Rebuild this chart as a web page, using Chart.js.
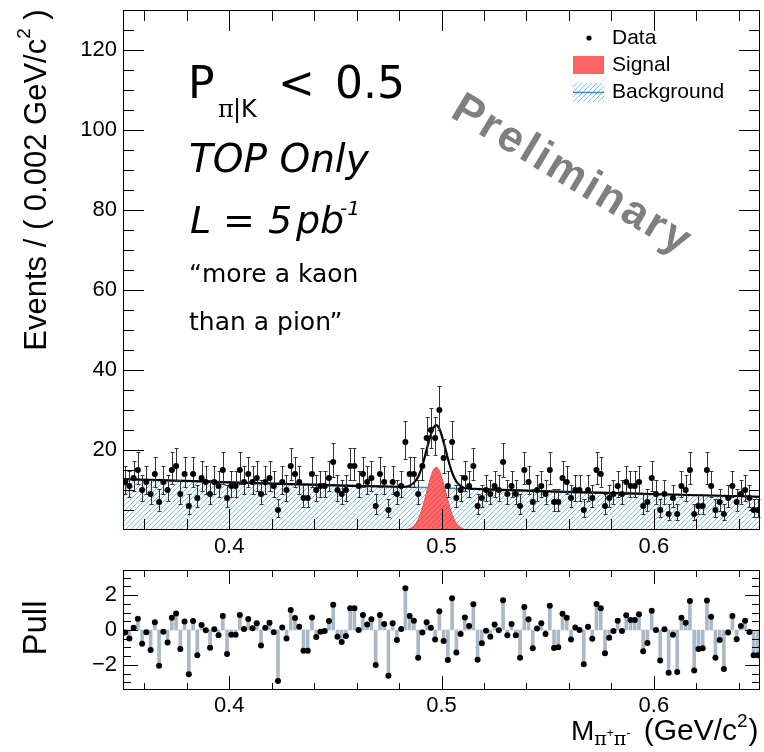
<!DOCTYPE html>
<html>
<head>
<meta charset="utf-8">
<script src="https://cdn.jsdelivr.net/npm/chart.js@4.4.1/dist/chart.umd.min.js"></script>
<style>
    html, body { margin: 0; padding: 0; background: #fff; }
    #wrap { position: relative; width: 764px; height: 752px; }
    canvas { position: absolute; left: 0; }
</style>
</head>
<body>
<div id="wrap">
    <canvas id="mainCanvas" width="764" height="560" style="top:0"></canvas>
    <canvas id="pullCanvas" width="764" height="192" style="top:560px"></canvas>
</div>
<script>
// events per 0.002 GeV bin, 0.35 .. 0.65
const counts = [
    12, 11, 13, 15, 10, 12, 9, 14, 7, 12,
    10, 15, 16, 9, 14, 6, 14, 8, 13, 12,
    9, 12, 11, 15, 8, 11, 11, 15, 12, 14,
    12, 13, 9, 12, 13, 11, 5, 12, 10, 16,
    14, 12, 8, 8, 14, 10, 11, 11, 13, 17,
    10, 9, 10, 16, 16, 11, 14, 12, 13, 6,
    14, 12, 5, 12, 9, 11, 22, 14, 14, 9,
    16, 23, 25, 23, 30, 18, 11, 22, 8, 10,
    13, 11, 16, 6, 8, 10, 9, 11, 10, 17,
    9, 11, 9, 6, 15, 12, 7, 10, 11, 9,
    15, 7, 7, 13, 12, 8, 10, 10, 5, 10,
    8, 15, 14, 6, 8, 9, 11, 9, 12, 11,
    11, 12, 6, 7, 13, 9, 5, 9, 4, 8,
    4, 11, 10, 15, 4, 6, 6, 15, 11, 5,
    7, 4, 8, 11, 7, 9, 10, 8, 5, 5
];

const pulls = [
    -0.15, -0.48, 0.13, 0.65, -0.78, -0.13, -1.14, 0.44, -2.04, -0.10,
    -0.72, 0.70, 0.95, -1.09, 0.48, -2.53, 0.51, -1.45, 0.29, -0.02,
    -1.01, 0.04, -0.30, 0.80, -1.37, -0.27, -0.27, 0.86, 0.06, 0.63,
    0.10, 0.38, -0.88, 0.13, 0.42, -0.13, -2.91, 0.15, -0.48, 1.14,
    0.69, 0.19, -1.18, -1.18, 0.72, -0.40, -0.10, -0.06, 0.51, 1.45,
    -0.38, -0.69, -0.34, 1.24, 1.24, 0.00, 0.86, 0.32, 0.61, -2.00,
    0.86, 0.34, -2.61, 0.38, -0.57, 0.06, 2.38, 0.80, 0.53, -1.58,
    -0.15, 0.44, 0.13, -0.55, 1.07, -0.63, -1.71, 1.81, -1.28, -0.23,
    0.72, 0.23, 1.47, -1.70, -0.76, -0.04, -0.38, 0.32, -0.02, 1.70,
    -0.30, 0.34, -0.30, -1.58, 1.31, 0.61, -1.05, 0.08, 0.38, -0.23,
    1.39, -1.03, -0.99, 0.93, 0.70, -0.55, 0.15, 0.00, -1.96, 0.19,
    -0.50, 1.49, 1.24, -1.33, -0.44, -0.06, 0.53, -0.06, 0.84, 0.57,
    0.57, 0.90, -1.22, -0.74, 1.10, 0.00, -1.75, 0.04, -2.44, -0.27,
    -2.40, 0.70, 0.42, 1.66, -2.32, -1.09, -1.05, 1.68, 0.76, -1.58,
    -0.57, -2.23, -0.15, 0.80, -0.53, 0.23, 0.53, -0.11, -1.45, -1.45
];

// fit curves
const bkgMass = [0.35, 0.65];
const bkgLevel = [12.7, 8.3];

const sigMass = [0.35, 0.479, 0.482, 0.485, 0.488, 0.490, 0.492, 0.494, 0.496, 0.4975,
                 0.499, 0.501, 0.503, 0.505, 0.507, 0.510, 0.513, 0.516, 0.65];
const sigLevel = [0, 0, 0.04, 0.33, 1.7, 3.9, 7.4, 11.5, 14.8, 15.7,
                  14.8, 11.5, 7.4, 3.9, 1.7, 0.33, 0.04, 0, 0];

const fitMass = [0.35, 0.479, 0.482, 0.485, 0.488, 0.490, 0.492, 0.494, 0.496, 0.4975,
                 0.499, 0.501, 0.503, 0.505, 0.507, 0.510, 0.513, 0.516, 0.65];
const fitLevel = [12.7, 10.81, 10.80, 11.05, 12.38, 14.55, 18.02, 22.09, 25.36, 26.24,
                  25.31, 21.98, 17.86, 14.33, 12.1, 10.68, 10.35, 10.26, 8.3];

const xLabelTicks = [0.4, 0.5, 0.6];
const xMinorTicks = [0.36, 0.38, 0.40, 0.42, 0.44, 0.46, 0.48, 0.50, 0.52, 0.54, 0.56, 0.58, 0.60, 0.62, 0.64];
const yLabelTicks = [20, 40, 60, 80, 100, 120];
const pullLabelTicks = [-2, 0, 2];

const binCenters = counts.map((_, i) => +(0.351 + 0.002 * i).toFixed(3));

const FONT = '"Liberation Sans", Arial, sans-serif';
const TEX = '"DejaVu Sans", sans-serif';

function hatch(bg, fg, size, lw) {
    const c = document.createElement('canvas');
    c.width = c.height = size;
    const g = c.getContext('2d');
    if (bg) { g.fillStyle = bg; g.fillRect(0, 0, size, size); }
    g.strokeStyle = fg;
    g.lineWidth = lw;
    g.beginPath();
    g.moveTo(-1, size + 1); g.lineTo(size + 1, -1);
    g.moveTo(-size / 2 - 1, size / 2 + 1); g.lineTo(size / 2 + 1, -size / 2 - 1);
    g.moveTo(size / 2 - 1, size * 1.5 + 1); g.lineTo(size * 1.5 + 1, size / 2 - 1);
    g.stroke();
    return g.createPattern(c, 'repeat');
}

const bkgHatch = hatch(null, '#7cc3ea', 5, 1);
const sigHatch = hatch('#ff6868', '#e84a4a', 5, 1);

function pts(xs, ys) { return xs.map((x, i) => ({ x: x, y: ys[i] })); }

// chart.js reserves room for edge labels; we want the frame exactly where we put it
function noPad(s) { s.paddingTop = 0; s.paddingBottom = 0; s.paddingLeft = 0; s.paddingRight = 0; }

// ROOT style ticks on all four sides + frame
function drawFrame(chart, o) {
    const { ctx, chartArea: a, scales } = chart;
    const sx = scales.x, sy = scales.y;
    ctx.save();
    ctx.strokeStyle = '#000';
    ctx.lineWidth = 1;
    ctx.beginPath();
    xMinorTicks.forEach(v => {
        const p = Math.round(sx.getPixelForValue(v)) + 0.5;
        const L = xLabelTicks.includes(v) ? o.xMajor : o.xMinor;
        ctx.moveTo(p, a.bottom); ctx.lineTo(p, a.bottom - L);
        ctx.moveTo(p, a.top); ctx.lineTo(p, a.top + L);
    });
    o.yTicks.forEach(v => {
        const p = Math.round(sy.getPixelForValue(v)) + 0.5;
        const L = o.yMajorList.includes(v) ? o.yMajor : o.yMinor;
        ctx.moveTo(a.left, p); ctx.lineTo(a.left + L, p);
        ctx.moveTo(a.right, p); ctx.lineTo(a.right - L, p);
    });
    ctx.stroke();
    ctx.strokeRect(a.left + 0.5, a.top + 0.5, a.right - a.left - 1, a.bottom - a.top - 1);
    ctx.restore();
}

function richText(ctx, x, y, parts) {
    let cx = x;
    parts.forEach(p => {
        ctx.font = p.font;
        ctx.fillText(p.t, cx, y + (p.dy || 0));
        cx += ctx.measureText(p.t).width + (p.gap || 0);
    });
}

function richWidth(ctx, parts) {
    let w = 0;
    parts.forEach(p => { ctx.font = p.font; w += ctx.measureText(p.t).width + (p.gap || 0); });
    return w;
}

const mainMinor = [];
for (let k = 1; k * 5 < 130; k++) mainMinor.push(k * 5);
const pullMinor = [];
for (let k = -6; k <= 6; k++) pullMinor.push(k * 0.5);

const errorBars = {
    id: 'errorBars',
    beforeDatasetDraw(chart, args) {
        if (args.index !== 0) return;
        const { ctx, scales: { x, y } } = chart;
        ctx.save();
        ctx.strokeStyle = '#333';
        ctx.lineWidth = 1;
        ctx.beginPath();
        counts.forEach((n, i) => {
            const px = Math.round(x.getPixelForValue(binCenters[i])) + 0.5;
            const s = Math.sqrt(n + 0.25);
            const top = Math.round(y.getPixelForValue(n + 0.5 + s)) + 0.5;
            const bot = Math.round(y.getPixelForValue(n + 0.5 - s)) + 0.5;
            ctx.moveTo(px, top); ctx.lineTo(px, bot);
            ctx.moveTo(px - 2, top); ctx.lineTo(px + 2, top);
            ctx.moveTo(px - 2, bot); ctx.lineTo(px + 2, bot);
        });
        ctx.stroke();
        ctx.restore();
    }
};

const mainDecor = {
    id: 'mainDecor',
    afterDraw(chart) {
        const ctx = chart.ctx;
        drawFrame(chart, { xMajor: 21, xMinor: 11, yMajor: 21, yMinor: 11, yTicks: mainMinor, yMajorList: yLabelTicks });

        ctx.save();
        ctx.fillStyle = '#000';
        ctx.textAlign = 'left';
        ctx.textBaseline = 'alphabetic';

        // P_{pi|K} < 0.5
        ctx.font = '44px ' + TEX; ctx.fillText('P', 188, 98);
        ctx.font = '24px "DejaVu Serif", serif'; ctx.fillText('π', 218, 117);
        ctx.font = '24px ' + TEX; ctx.fillText('|K', 233, 117);
        ctx.font = '44px ' + TEX; ctx.fillText('<', 278, 98);
        ctx.fillText('0.5', 335, 98);

        ctx.font = 'oblique 39px ' + TEX; ctx.fillText('TOP Only', 189, 172);

        ctx.font = 'oblique 38px ' + TEX; ctx.fillText('L', 190, 233);
        ctx.font = '38px ' + TEX; ctx.fillText('=', 223, 233);
        ctx.font = 'oblique 38px ' + TEX; ctx.fillText('5', 268, 233);
        ctx.fillText('pb', 296, 233);
        ctx.font = 'oblique 20px ' + TEX; ctx.fillText('-1', 340, 215);

        ctx.font = '25px ' + TEX;
        ctx.fillText('\u201Cmore a kaon', 189, 282);
        ctx.fillText('than a pion\u201D', 189, 330);

        // Preliminary
        ctx.save();
        ctx.translate(572, 176);
        ctx.rotate(31 * Math.PI / 180);
        ctx.fillStyle = '#7f7f7f';
        ctx.font = 'bold 44px ' + FONT;
        ctx.letterSpacing = '3px';
        ctx.textAlign = 'center';
        ctx.textBaseline = 'middle';
        ctx.fillText('Preliminary', 0, 0);
        ctx.restore();

        // legend
        ctx.font = '21px ' + FONT;
        ctx.textBaseline = 'middle';
        ctx.fillStyle = '#000';
        ctx.beginPath(); ctx.arc(589, 38, 2.6, 0, Math.PI * 2); ctx.fill();
        ctx.fillText('Data', 612, 38);
        ctx.fillStyle = '#ff6464';
        ctx.fillRect(573, 56, 31, 18);
        ctx.fillStyle = '#000';
        ctx.fillText('Signal', 612, 65);
        ctx.fillStyle = bkgHatch;
        ctx.fillRect(573, 83, 31, 19);
        ctx.strokeStyle = '#2a8fd8';
        ctx.lineWidth = 1.5;
        ctx.beginPath(); ctx.moveTo(573, 92.5); ctx.lineTo(604, 92.5); ctx.stroke();
        ctx.fillStyle = '#000';
        ctx.fillText('Background', 612, 92);

        // y title
        const parts = [
            { t: 'Events / ( 0.002 GeV/c', font: '31px ' + FONT },
            { t: '2', font: '19px ' + FONT, dy: -12 },
            { t: ' )', font: '31px ' + FONT }
        ];
        ctx.save();
        ctx.translate(37, 180);
        ctx.rotate(-Math.PI / 2);
        ctx.textBaseline = 'middle';
        const w = richWidth(ctx, parts);
        richText(ctx, -w / 2, 0, parts);
        ctx.restore();

        ctx.restore();
    }
};

const pullDecor = {
    id: 'pullDecor',
    afterDraw(chart) {
        const ctx = chart.ctx;
        drawFrame(chart, { xMajor: 14, xMinor: 7, yMajor: 15, yMinor: 8, yTicks: pullMinor, yMajorList: pullLabelTicks });
        ctx.save();
        ctx.fillStyle = '#000';
        ctx.textAlign = 'center';
        ctx.textBaseline = 'middle';
        ctx.save();
        ctx.translate(37, 68);
        ctx.rotate(-Math.PI / 2);
        ctx.font = '33px ' + FONT;
        ctx.fillText('Pull', 0, 0);
        ctx.restore();

        ctx.textAlign = 'left';
        ctx.textBaseline = 'alphabetic';
        richText(ctx, 571, 180, [
            { t: 'M', font: '28px ' + FONT },
            { t: 'π', font: '19px "DejaVu Serif", serif', dy: 5 },
            { t: '+', font: '12px ' + FONT, dy: -3 },
            { t: 'π', font: '19px "DejaVu Serif", serif', dy: 5 },
            { t: '-', font: '13px ' + FONT, dy: -3, gap: 13 },
            { t: '(GeV/c', font: '30px ' + FONT },
            { t: '2', font: '19px ' + FONT, dy: -13, gap: 1 },
            { t: ')', font: '30px ' + FONT }
        ]);
        ctx.restore();
    }
};

Chart.defaults.color = '#000';
Chart.defaults.font.family = FONT;

new Chart(document.getElementById('mainCanvas'), {
    type: 'scatter',
    data: {
        datasets: [
            {
                label: 'Data',
                data: pts(binCenters, counts),
                pointRadius: 3,
                pointBackgroundColor: '#000',
                pointBorderWidth: 0,
                showLine: false,
                order: 0
            },
            {
                label: 'Fit',
                data: pts(fitMass, fitLevel),
                showLine: true,
                borderColor: '#000',
                borderWidth: 2.2,
                pointRadius: 0,
                cubicInterpolationMode: 'monotone',
                fill: false,
                order: 1
            },
            {
                label: 'Signal',
                data: pts(sigMass, sigLevel),
                showLine: true,
                borderColor: '#e05050',
                borderWidth: 1,
                pointRadius: 0,
                cubicInterpolationMode: 'monotone',
                backgroundColor: sigHatch,
                fill: 'origin',
                order: 2
            },
            {
                label: 'Background',
                data: pts(bkgMass, bkgLevel),
                showLine: true,
                borderColor: '#2a8fd8',
                borderWidth: 1.5,
                pointRadius: 0,
                backgroundColor: bkgHatch,
                fill: 'origin',
                order: 3
            }
        ]
    },
    options: {
        responsive: false,
        animation: false,
        devicePixelRatio: 1,
        events: [],
        layout: { padding: { top: 10, right: 1, left: 0, bottom: 0 } },
        plugins: { legend: { display: false }, tooltip: { enabled: false } },
        scales: {
            x: {
                type: 'linear', min: 0.35, max: 0.65,
                afterBuildTicks: s => { s.ticks = xLabelTicks.map(v => ({ value: v })); },
                afterFit: s => { s.height = 30; noPad(s); },
                grid: { display: false, drawTicks: false },
                border: { display: false },
                ticks: { padding: 4, font: { size: 22 }, maxRotation: 0, callback: v => v.toFixed(1) }
            },
            y: {
                type: 'linear', min: 0, max: 130,
                afterBuildTicks: s => { s.ticks = yLabelTicks.map(v => ({ value: v })); },
                afterFit: s => { s.width = 123; noPad(s); },
                grid: { display: false, drawTicks: false },
                border: { display: false },
                ticks: { padding: 6, font: { size: 22 } }
            }
        }
    },
    plugins: [errorBars, mainDecor]
});

new Chart(document.getElementById('pullCanvas'), {
    data: {
        datasets: [
            {
                type: 'scatter',
                label: 'Pull points',
                data: pts(binCenters, pulls),
                pointRadius: 3,
                pointBackgroundColor: '#000',
                pointBorderWidth: 0,
                order: 0
            },
            {
                type: 'bar',
                label: 'Pull',
                data: pts(binCenters, pulls),
                backgroundColor: '#a9b9c8',
                barThickness: 3,
                order: 1
            }
        ]
    },
    options: {
        responsive: false,
        animation: false,
        devicePixelRatio: 1,
        events: [],
        layout: { padding: { top: 10, right: 1, left: 0, bottom: 0 } },
        plugins: { legend: { display: false }, tooltip: { enabled: false } },
        scales: {
            x: {
                type: 'linear', min: 0.35, max: 0.65, offset: false,
                afterBuildTicks: s => { s.ticks = xLabelTicks.map(v => ({ value: v })); },
                afterFit: s => { s.height = 62; noPad(s); },
                grid: { display: false, drawTicks: false },
                border: { display: false },
                ticks: { padding: 3, font: { size: 22 }, maxRotation: 0, callback: v => v.toFixed(1) }
            },
            y: {
                type: 'linear', min: -3.43, max: 3.43,
                afterBuildTicks: s => { s.ticks = pullLabelTicks.map(v => ({ value: v })); },
                afterFit: s => { s.width = 123; noPad(s); },
                grid: { display: false, drawTicks: false },
                border: { display: false },
                ticks: { padding: 6, font: { size: 22 }, callback: v => (v < 0 ? '\u2212' + Math.abs(v) : String(v)) }
            }
        }
    },
    plugins: [pullDecor]
});
</script>
</body>
</html>
